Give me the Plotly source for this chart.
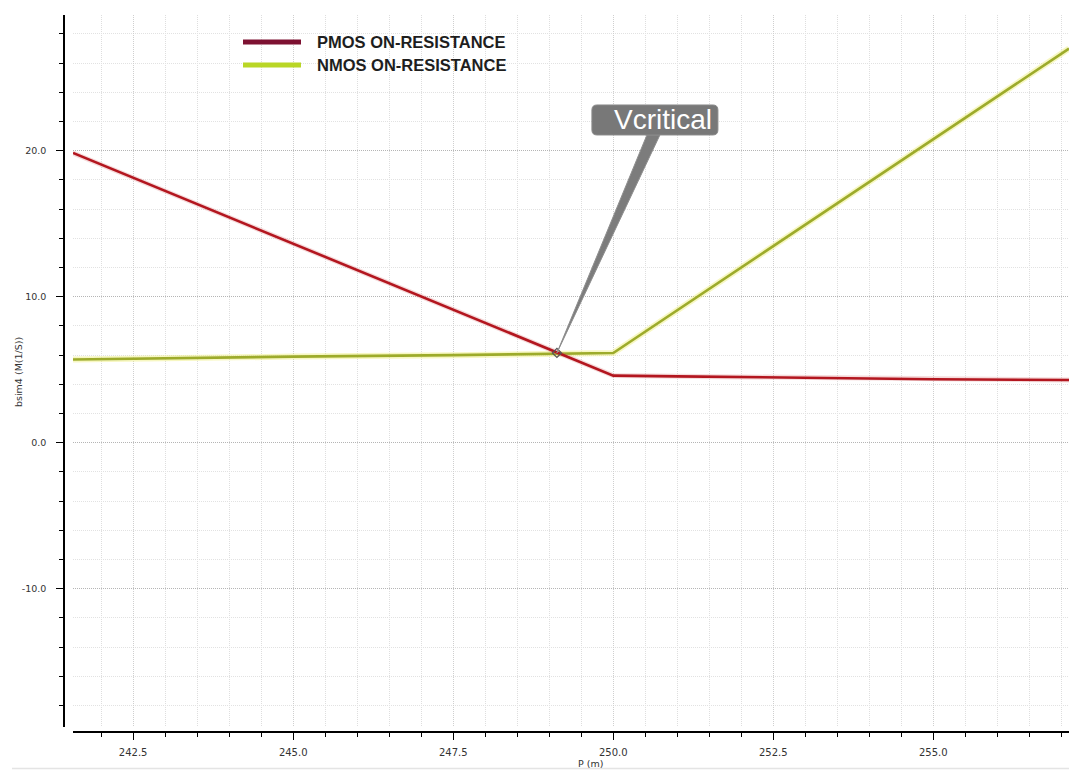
import plotly.graph_objects as go

# Sweep of P (m) with the on-resistance of each device
pmos_x = [241.56, 250.0, 251.0, 253.0, 255.0, 257.12]
pmos_y = [19.85, 4.6, 4.55, 4.45, 4.35, 4.3]

nmos_x = [241.56, 243.0, 245.0, 247.5, 249.12, 250.0, 257.12]
nmos_y = [5.7, 5.8, 5.9, 6.0, 6.1, 6.15, 27.0]

# Crossing point of the two curves
vcrit_x = 249.12
vcrit_y = 6.15

x_ticks = [242.5, 245.0, 247.5, 250.0, 252.5, 255.0]
x_labels = ["242.5", "245.0", "247.5", "250.0", "252.5", "255.0"]
y_ticks = [-10, 0, 10, 20]
y_labels = ["-10.0", "0.0", "10.0", "20.0"]

legend_names = ["PMOS ON-RESISTANCE", "NMOS ON-RESISTANCE"]
legend_colors = ["#7d1131", "#b9d626"]

W, H = 1069, 770
ML, MR, MT, MB = 64, 0, 15, 38
PW, PH = W - ML - MR, H - MT - MB


def px(xp):
    return (xp - ML) / PW


def py(yp):
    return (H - MB - yp) / PH


fig = go.Figure()

# NMOS: faint yellow glow under the olive curve
fig.add_trace(go.Scatter(x=nmos_x, y=nmos_y, mode="lines",
                         line=dict(color="rgba(238,238,120,0.45)", width=6),
                         hoverinfo="skip", showlegend=False))
fig.add_trace(go.Scatter(x=nmos_x, y=nmos_y, mode="lines",
                         line=dict(color="#9dab2b", width=2.6),
                         name=legend_names[1], showlegend=False))
fig.add_trace(go.Scatter(x=pmos_x, y=pmos_y, mode="lines",
                         line=dict(color="rgba(215,110,110,0.25)", width=5),
                         hoverinfo="skip", showlegend=False))
fig.add_trace(go.Scatter(x=pmos_x, y=pmos_y, mode="lines",
                         line=dict(color="#b3161f", width=2.6),
                         name=legend_names[0], showlegend=False))
fig.add_trace(go.Scatter(x=[vcrit_x], y=[vcrit_y], mode="markers",
                         marker=dict(symbol="diamond-open", size=7,
                                     color="#555555", line=dict(width=1.2)),
                         showlegend=False))

shapes = []
annotations = []

# Callout pointer and rounded label box, positioned in pixels from the crossing point
pointer = "M 0 0 L 90 218 L 103 218 Z"
shapes.append(dict(type="path", path=pointer, xref="x", yref="y",
                   xsizemode="pixel", ysizemode="pixel",
                   xanchor=vcrit_x, yanchor=vcrit_y,
                   fillcolor="#7c7c7c", line=dict(color="#8e8e8e", width=1)))
bx0, bx1, by0, by1, r = 35, 161, 218, 248, 5
box = (f"M {bx0 + r} {by0} L {bx1 - r} {by0} Q {bx1} {by0} {bx1} {by0 + r} "
       f"L {bx1} {by1 - r} Q {bx1} {by1} {bx1 - r} {by1} "
       f"L {bx0 + r} {by1} Q {bx0} {by1} {bx0} {by1 - r} "
       f"L {bx0} {by0 + r} Q {bx0} {by0} {bx0 + r} {by0} Z")
shapes.append(dict(type="path", path=box, xref="x", yref="y",
                   xsizemode="pixel", ysizemode="pixel",
                   xanchor=vcrit_x, yanchor=vcrit_y,
                   fillcolor="#787878", line=dict(color="#8a8a8a", width=1)))
annotations.append(dict(x=vcrit_x, y=vcrit_y, xref="x", yref="y",
                        xshift=106, yshift=233, text="Vcritical", showarrow=False,
                        xanchor="center", yanchor="middle",
                        font=dict(family="Liberation Sans, Arial", size=28,
                                  color="white")))

# Legend drawn as thick line samples with bold captions
for i, (name, col) in enumerate(zip(legend_names, legend_colors)):
    yy = 42 + 23 * i
    shapes.append(dict(type="line", xref="paper", yref="paper",
                       x0=px(243), x1=px(301), y0=py(yy), y1=py(yy),
                       line=dict(color=col, width=5)))
    annotations.append(dict(x=px(315), y=py(yy), xref="paper", yref="paper",
                            text=f"<b>{name}</b>", showarrow=False,
                            xanchor="left", yanchor="middle",
                            font=dict(family="Liberation Sans, Arial", size=16.5,
                                      color="#1e1e1e")))

# Axis titles
annotations.append(dict(x=px(590), y=py(763), xref="paper", yref="paper",
                        text="P (m)", showarrow=False, xanchor="center",
                        yanchor="middle",
                        font=dict(family="DejaVu Sans", size=9.5, color="#333")))
annotations.append(dict(x=px(18), y=py(372), xref="paper", yref="paper",
                        text="bsim4 (M(1/S))", showarrow=False, textangle=-90,
                        xanchor="center", yanchor="middle",
                        font=dict(family="DejaVu Sans", size=9.5, color="#333")))

# Thin separator along the bottom edge
shapes.append(dict(type="line", xref="paper", yref="paper",
                   x0=px(12), x1=1, y0=py(768.5), y1=py(768.5),
                   line=dict(color="#e4e4e4", width=1.5)))

fine_dot = "1px,1px"

fig.update_layout(
    width=W, height=H,
    margin=dict(l=ML, r=MR, t=MT, b=MB),
    paper_bgcolor="white", plot_bgcolor="white",
    showlegend=False,
    shapes=shapes, annotations=annotations,
    xaxis=dict(
        domain=[9 / PW, 1], anchor="free", position=0,
        range=[241.56, 257.12],
        tickmode="array", tickvals=x_ticks, ticktext=x_labels,
        ticks="outside", ticklen=7, tickwidth=1, tickcolor="black",
        tickfont=dict(family="DejaVu Sans", size=10, color="#333333"),
        ticklabelstandoff=4,
        showline=True, linecolor="black", linewidth=1.5,
        showgrid=True, gridcolor="#cfcfcf", griddash=fine_dot, gridwidth=1,
        zeroline=False,
        minor=dict(tickmode="linear", tick0=242.5, dtick=0.5,
                   ticks="outside", ticklen=4, tickcolor="black",
                   showgrid=True, gridcolor="#dedede", griddash=fine_dot),
    ),
    yaxis=dict(
        domain=[5 / PH, 1], anchor="free", position=0,
        range=[-19.47, 29.3],
        tickmode="array", tickvals=y_ticks, ticktext=y_labels,
        ticks="outside", ticklen=7, tickwidth=1, tickcolor="black",
        tickfont=dict(family="DejaVu Sans", size=9.5, color="#333333"),
        ticklabelstandoff=8,
        showline=True, linecolor="black", linewidth=1.5,
        showgrid=True, gridcolor="#b5b5b5", griddash=fine_dot, gridwidth=1,
        zeroline=False,
        minor=dict(tickmode="linear", tick0=0, dtick=2,
                   ticks="outside", ticklen=4, tickcolor="black",
                   showgrid=True, gridcolor="#e2e2e2", griddash=fine_dot),
    ),
)

fig.write_html("out.html")
